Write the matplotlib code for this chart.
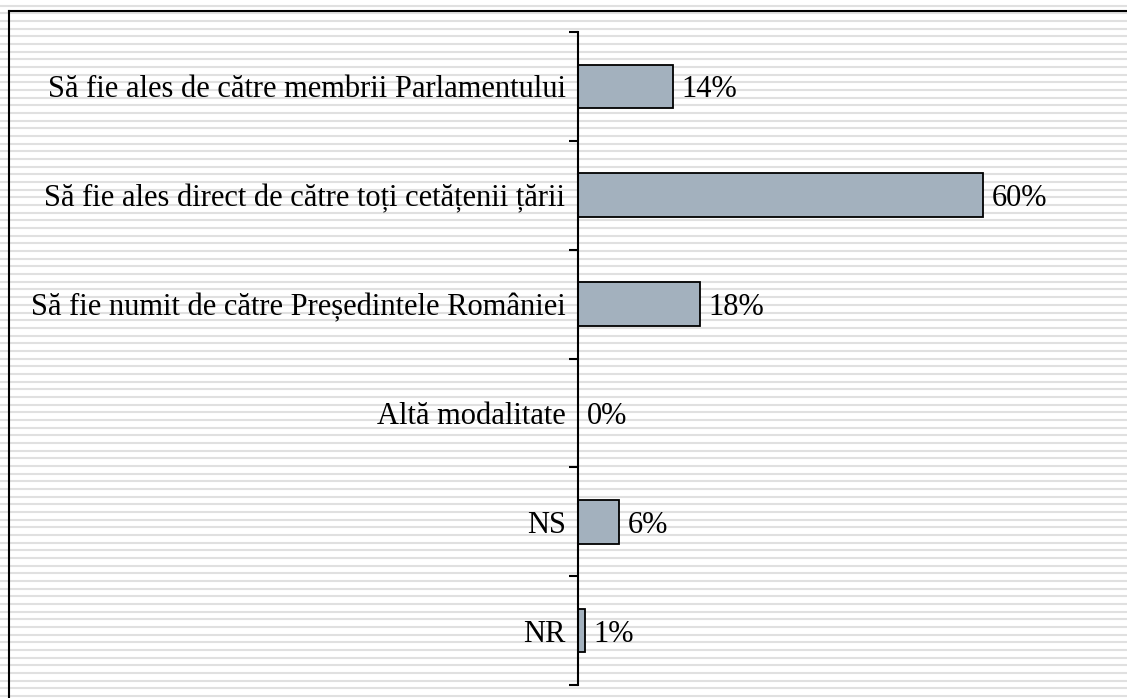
import matplotlib.pyplot as plt
from matplotlib.lines import Line2D
import numpy as np

categories = [
    "Să fie ales de către membrii Parlamentului",
    "Să fie ales direct de către toți cetățenii țării",
    "Să fie numit de către Președintele României",
    "Altă modalitate",
    "NS",
    "NR",
]
values = [14, 60, 18, 0, 6, 1]
value_labels = ["14%", "60%", "18%", "0%", "6%", "1%"]

plt.rcParams['font.family'] = ['Liberation Serif', 'DejaVu Serif']

W, H = 1127, 698
fig = plt.figure(figsize=(W / 100, H / 100), dpi=100)

# fundal cu dungi orizontale
for y in np.arange(5.7, H, 7.67):
    fig.add_artist(Line2D([0, 1], [1 - y / H, 1 - y / H], transform=fig.transFigure,
                          color='#e0e0e0', linewidth=1.5, zorder=0))

# chenar exterior
fig.add_artist(Line2D([9 / W, 1], [1 - 11 / H, 1 - 11 / H], transform=fig.transFigure,
                      color='black', linewidth=1.5, zorder=1))
fig.add_artist(Line2D([9 / W, 9 / W], [0, 1 - 11 / H], transform=fig.transFigure,
                      color='black', linewidth=1.5, zorder=1))

x0, y_top, y_bot = 578, 32, 685
ax = fig.add_axes([x0 / W, 1 - y_bot / H, (W - x0) / W, (y_bot - y_top) / H])
ax.patch.set_alpha(0)
ax.set_xlim(0, 60 * (W - x0) / 405)
ax.set_ylim(6, 0)

pos = np.arange(len(categories)) + 0.5
ax.barh(pos, values, height=0.4, color='#a3b1be', edgecolor='black', linewidth=1.3)
for p, v, lab in zip(pos, values, value_labels):
    ax.annotate(lab, (v, p), xytext=(9, 0), textcoords='offset pixels',
                va='center_baseline', ha='left', fontsize=22)

for s in ['top', 'right', 'bottom']:
    ax.spines[s].set_visible(False)
ax.spines['left'].set_linewidth(1.5)
ax.set_xticks([])
ax.set_yticks(np.arange(7))
ax.set_yticklabels([])
ax.tick_params(axis='y', which='major', direction='out', length=6.5, width=1.5)
ax.set_yticks(pos, minor=True)
ax.set_yticklabels(categories, minor=True, fontsize=22, va='center_baseline')
ax.tick_params(axis='y', which='minor', length=0, pad=9)

fig.savefig('out.png', dpi=100)
